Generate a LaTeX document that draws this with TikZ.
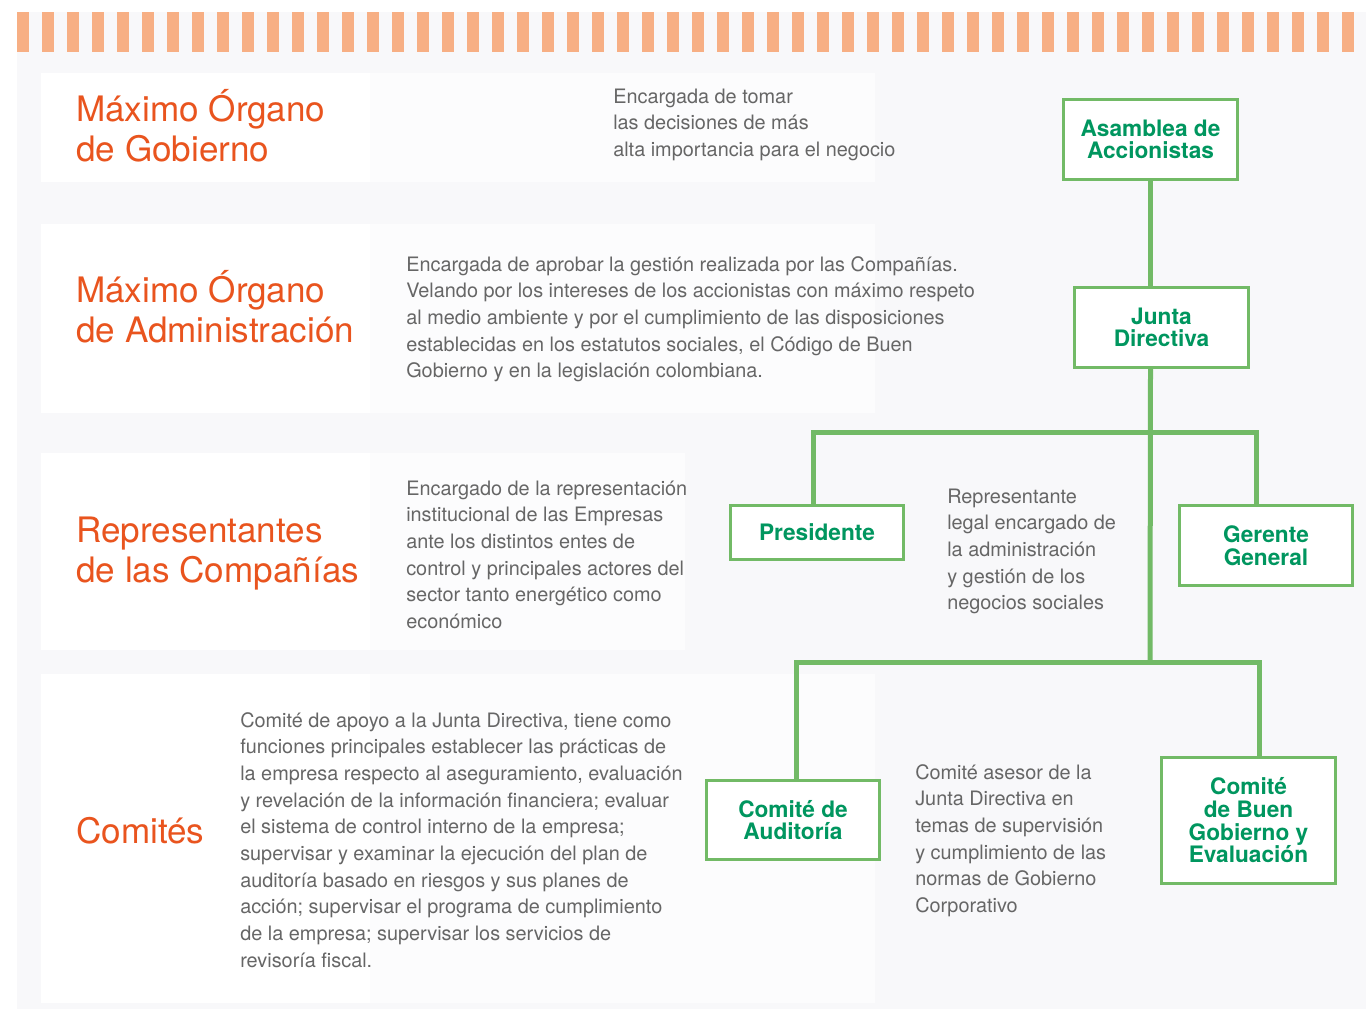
\documentclass[tikz,border=0pt]{standalone}
\usepackage{fontspec}
\usetikzlibrary{backgrounds}
\setmainfont{TeX Gyre Heros}
\definecolor{bggray}{HTML}{F8F8FA}
\definecolor{panelr}{HTML}{FCFCFD}
\definecolor{stripe}{HTML}{F7AF84}
\definecolor{orangetxt}{HTML}{E9541E}
\definecolor{desctxt}{HTML}{666666}
\definecolor{gline}{HTML}{72BA66}
\definecolor{gtxt}{HTML}{00965F}
\newcommand{\tstrut}{\rule{0pt}{1em}}
\tikzset{
  titletxt/.style={anchor=north west, inner sep=0pt, align=left, text=orangetxt,
    font=\fontsize{26.3}{30}\selectfont},
  desctxt/.style={anchor=north west, inner sep=0pt, align=left, text=desctxt,
    font=\fontsize{14.9}{20}\selectfont},
  orgbox/.style={draw=gline, line width=2.25pt, fill=white, text=gtxt, align=center,
    inner sep=0pt, font=\bfseries\fontsize{17}{17}\selectfont},
  link/.style={draw=gline, line width=3.75pt},
}
\begin{document}
\begin{tikzpicture}[x=0.75pt,y=-0.75pt]
\useasboundingbox (0,0) rectangle (1366,1009);
\begin{scope}[on background layer]
\fill[white] (0,0) rectangle (1366,1009);
\fill[bggray] (17,12) rectangle (1366,1009);
\foreach \i in {0,...,53} {
  \fill[stripe] ({16.5+25*\i},12) rectangle ({29+25*\i},52);
}
\fill[panelr] (41,73) rectangle (875,182);
\fill[white] (41,73) rectangle (370,182);
\fill[panelr] (41,224) rectangle (875,413);
\fill[white] (41,224) rectangle (370,413);
\fill[panelr] (41,453) rectangle (685,650);
\fill[white] (41,453) rectangle (370,650);
\fill[panelr] (41,674) rectangle (875,1003);
\fill[white] (41,674) rectangle (370,1003);
\end{scope}

% titles
\node[titletxt] (t1) at (76,86) {\tstrut Máximo Órgano\\de Gobierno};
\node[titletxt] (t2) at (76,267) {\tstrut Máximo Órgano\\de Administración};
\node[titletxt] (t3) at (76,507) {\tstrut Representantes\\de las Compañías};
\node[titletxt] (t4) at (76,808) {\tstrut Comités};

% descriptions
\node[desctxt] (d1) at (613,83) {\tstrut Encargada de tomar\\las decisiones de más\\alta importancia para el negocio};
\node[desctxt] (d2) at (406,251) {\tstrut Encargada de aprobar la gestión realizada por las Compañías.\\Velando por los intereses de los accionistas con máximo respeto\\al medio ambiente y por el cumplimiento de las disposiciones\\establecidas en los estatutos sociales, el Código de Buen\\Gobierno y en la legislación colombiana.};
\node[desctxt] (d3) at (406,475) {\tstrut Encargado de la representación\\institucional de las Empresas\\ante los distintos entes de\\control y principales actores del\\sector tanto energético como\\económico};
\node[desctxt] (d4) at (240,707) {\tstrut Comité de apoyo a la Junta Directiva, tiene como\\funciones principales establecer las prácticas de\\la empresa respecto al aseguramiento, evaluación\\y revelación de la información financiera; evaluar\\el sistema de control interno de la empresa;\\supervisar y examinar la ejecución del plan de\\auditoría basado en riesgos y sus planes de\\acción; supervisar el programa de cumplimiento\\de la empresa; supervisar los servicios de\\revisoría fiscal.};
\node[desctxt] (d5) at (947,483) {\tstrut Representante\\legal encargado de\\la administración\\y gestión de los\\negocios sociales};
\node[desctxt] (d6) at (915,759) {\tstrut Comité asesor de la\\Junta Directiva en\\temas de supervisión\\y cumplimiento de las\\normas de Gobierno\\Corporativo};

% boxes
\node[orgbox, minimum width=131pt, minimum height=60pt] (asam) at (1150.5,139.5) {Asamblea de\\Accionistas};
\node[orgbox, minimum width=131pt, minimum height=60pt] (junta) at (1161.5,327.5) {Junta\\Directiva};
\node[orgbox, minimum width=130pt, minimum height=40.5pt] (pres) at (817,532.5) {Presidente};
\node[orgbox, minimum width=130pt, minimum height=60pt] (ger) at (1266,545.5) {Gerente\\General};
\node[orgbox, minimum width=130pt, minimum height=59.25pt] (aud) at (793,820) {Comité de\\Auditoría};
\node[orgbox, minimum width=131pt, minimum height=94.5pt] (buen) at (1248.5,820.5) {Comité\\de Buen\\Gobierno y\\Evaluación};

% connectors
\coordinate (hubA) at (1150,432);
\coordinate (hubB) at (1150,662);
\begin{scope}[on background layer]
\draw[link] (asam.south) -- (asam.south |- junta.north);
\draw[link] (asam.south |- junta.south) -- (hubB);
\draw[link] ([xshift=-3pt]pres.north) |- (hubA) -| ([xshift=-7.5pt]ger.north);
\draw[link] ([xshift=2.25pt]aud.north) |- (hubB) -| ([xshift=8.6pt]buen.north);
\end{scope}
\end{tikzpicture}
\end{document}
